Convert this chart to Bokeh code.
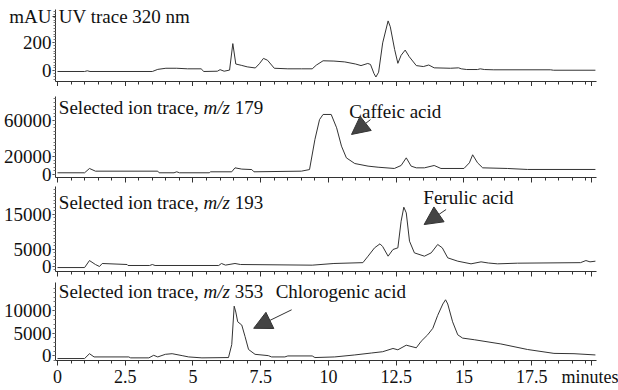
from bokeh.plotting import figure
from bokeh.layouts import column
from bokeh.models import Range1d, FixedTicker, Label, Arrow, NormalHead
from bokeh.embed import file_html
from bokeh.resources import INLINE

FONT = "Liberation Serif"
INK = "#333333"

# ---- data (minutes, intensity) ----
x_ticks = [0, 2.5, 5, 7.5, 10, 12.5, 15, 17.5, 19.7]
x_tick_labels = ["0", "2.5", "5", "7.5", "10", "12.5", "15", "17.5", "minutes"]

uv_t = [0.0, 1.0, 1.1, 1.2, 3.5, 3.7, 4.0, 4.4, 4.8, 5.3, 5.4, 5.9, 6.0, 6.15, 6.35,
        6.47, 6.58, 6.8, 7.0, 7.3, 7.45, 7.6, 7.75, 8.0, 8.5, 9.0, 9.4, 9.55, 9.8,
        10.2, 10.6, 11.0, 11.2, 11.45, 11.55, 11.68, 11.75, 11.85, 12.0, 12.2, 12.28,
        12.44, 12.56, 12.68, 12.83, 12.98, 13.24, 13.5, 13.7, 13.9, 14.5, 14.8, 14.9,
        15.1, 15.5, 15.6, 15.75, 16.1, 18.2, 18.3, 19.85]
uv_mAU = [-5, -5, 0, -5, -5, 10, 18, 18, 14, 14, -5, -3, 8, -3, 5,
          193, 48, 38, 28, 20, 50, 88, 75, 18, 14, 14, 14, 40, 71,
          69, 63, 48, 37, 52, 45, -20, -44, -10, 198, 354, 313,
          152, 53, 110, 147, 100, 37, 30, 41, 21, 18, 21, 14,
          9, 9, 14, 9, 7, 7, 4, 4]
uv_ticks = [0, 200, 385]
uv_tick_labels = ["0", "200", "mAU"]

mz179_t = [0.0, 1.0, 1.18, 1.4, 3.7, 3.75, 4.3, 4.4, 4.5, 5.6, 5.65, 6.43, 6.55, 6.8,
           7.17, 7.25, 9.0, 9.3, 9.5, 9.67, 9.8, 10.1, 10.3, 10.48, 10.66, 10.97, 11.46,
           11.83, 12.43, 12.68, 12.87, 13.05, 13.24, 13.54, 13.9, 14.15, 15.0, 15.2,
           15.32, 15.5, 15.69, 16.6, 17.34, 19.85]
mz179 = [1900, 1900, 6700, 3700, 3700, 1900, 1900, 3000, 1900, 1900, 3000, 3000, 7400, 6000,
         5500, 3000, 3700, 5500, 39000, 61000, 66700, 66700, 51900, 31500, 18500, 12200, 9300,
         8100, 6700, 10000, 18500, 9300, 7400, 7400, 10000, 6700, 6700, 13000,
         21900, 13000, 7400, 6700, 5600, 5600]
mz179_ticks = [0, 20000, 60000]
mz179_tick_labels = ["0", "20000", "60000"]

mz193_t = [0.0, 1.0, 1.18, 1.4, 1.55, 1.65, 2.57, 2.6, 3.4, 3.5, 3.6, 5.95, 6.05, 6.2,
           6.55, 6.75, 9.4, 10.2, 11.27, 11.46, 11.7, 11.9, 12.0, 12.2, 12.38, 12.56,
           12.68, 12.78, 12.87, 12.99, 13.17, 13.54, 13.79, 14.03, 14.2, 14.4, 14.77,
           15.26, 15.63, 15.9, 16.24, 16.97, 19.3, 19.5, 19.65, 19.85]
mz193 = [-300, -300, 1700, 570, 0, 860, 570, 290, 290, 570, 290, 290, 860, 400,
         860, 570, 380, 860, 1100, 2950, 5340, 6480, 5700, 2950, 4860, 5340,
         12950, 16960, 15350, 7240, 3900, 2950, 3900, 6300, 5340, 2480, 1520,
         760, 1330, 1000, 760, 950, 1100, 1700, 1330, 1520]
mz193_ticks = [0, 5000, 15000]
mz193_tick_labels = ["0", "5000", "15000"]

mz353_t = [0.0, 1.0, 1.18, 1.35, 2.63, 2.7, 3.37, 3.55, 3.7, 3.98, 4.23, 4.6, 4.84, 5.33,
           6.31, 6.43, 6.52, 6.58, 6.65, 6.8, 6.92, 7.05, 7.29, 7.78, 7.9, 8.39, 8.5,
           9.4, 9.5, 10.23, 10.97, 11.58, 12.0, 12.38, 12.56, 12.87, 13.24, 13.42, 13.66,
           13.85, 14.03, 14.22, 14.32, 14.4, 14.58, 14.77, 14.95, 15.38, 16.36, 17.34,
           18.32, 19.06, 19.85]
mz353 = [-650, -650, 430, -290, -290, -500, -500, 70, -290, 290, 430, 0, -290, -500,
         -430, 2450, 11000, 9700, 7530, 6800, 4270, 1370, 290, 0, -290, -290, -70,
         -70, -430, -290, 150, 580, 870, 1590, 1300, 2320, 1740, 3190, 4630,
         6080, 8970, 11500, 12430, 11500, 7530, 4630, 3900, 3540, 2600, 1370,
         500, 430, 150]
mz353_ticks = [0, 5000, 10000]
mz353_tick_labels = ["0", "5000", "10000"]

X_RANGE = (-0.0735, 19.89)


def panel(height, top, bottom, yr, yticks, ylabels, yminor, show_x):
    p = figure(width=618, height=height, x_range=Range1d(*X_RANGE), y_range=Range1d(*yr),
               output_backend="svg", toolbar_location=None,
               min_border_left=53, min_border_right=22,
               min_border_top=top, min_border_bottom=bottom)
    p.grid.visible = False
    p.outline_line_color = None
    p.background_fill_color = "white"
    p.border_fill_color = "white"

    xa = p.xaxis[0]
    xa.ticker = FixedTicker(ticks=x_ticks, minor_ticks=[i * 0.5 for i in range(40)])
    xa.major_label_overrides = {float(t): lab for t, lab in zip(x_ticks, x_tick_labels)}
    xa.axis_line_color = INK
    xa.major_tick_line_color = INK
    xa.minor_tick_line_color = INK
    xa.major_tick_out = 5
    xa.major_tick_in = 0
    xa.minor_tick_out = 3
    xa.minor_tick_in = 0
    xa.major_label_text_font = FONT
    xa.major_label_text_font_size = "18px"
    xa.major_label_standoff = 1
    xa.major_label_text_color = "#111111" if show_x else None

    ya = p.yaxis[0]
    ya.ticker = FixedTicker(ticks=yticks, minor_ticks=yminor)
    ya.major_label_overrides = {float(t): lab for t, lab in zip(yticks, ylabels)}
    ya.axis_line_color = INK
    ya.major_tick_line_color = INK
    ya.minor_tick_line_color = "#777777"
    ya.major_tick_out = 3
    ya.major_tick_in = 0
    ya.minor_tick_out = 2
    ya.minor_tick_in = 0
    ya.major_label_standoff = 1
    ya.major_label_text_font = FONT
    ya.major_label_text_font_size = "19px"
    ya.major_label_text_color = "#111111"
    return p


def text(p, x, y, s, x_offset=0, italic=False, size="19px"):
    p.add_layout(Label(x=x, y=y, text=s, x_offset=x_offset, text_font=FONT,
                       text_font_size=size, text_color="#111111",
                       text_font_style="italic" if italic else "normal",
                       text_align="left", text_baseline="middle"))


def ion_title(p, y, mz):
    # "Selected ion trace, " = 144.6 px at 19px (Times metrics), italic "m/z" = 26.4 px
    text(p, 0.05, y, "Selected ion trace,")
    text(p, 0.05, y, "m/z", x_offset=144.6, italic=True)
    text(p, 0.05, y, mz, x_offset=175.8)


def arrow(p, xs, ys, xe, ye):
    p.add_layout(Arrow(x_start=xs, y_start=ys, x_end=xe, y_end=ye,
                       line_color=INK, line_width=1,
                       end=NormalHead(size=18, fill_color="#444444",
                                      line_color=INK, line_width=1,
                                      hatch_pattern="x", hatch_color="#bbbbbb",
                                      hatch_scale=4)))


# Panel 1: UV trace
p1 = panel(86, 9, 5, (-76, 435), uv_ticks, uv_tick_labels, list(range(-60, 440, 20)), False)
p1.line(uv_t, uv_mAU, line_color=INK, line_width=1)
text(p1, 0.05, 385, "UV trace 320 nm")

# Panel 2: m/z 179
p2 = panel(98, 10, 7, (-3333, 86660), mz179_ticks, mz179_tick_labels,
           list(range(0, 88000, 4000)), False)
p2.line(mz179_t, mz179, line_color=INK, line_width=1)
ion_title(p2, 74400, "179")
text(p2, 10.77, 70300, "Caffeic acid")
arrow(p2, 11.55, 61000, 10.85, 44500)

# Panel 3: m/z 193
p3 = panel(93, 2, 6, (-1430, 22880), mz193_ticks, mz193_tick_labels,
           list(range(-1000, 23000, 1000)), False)
p3.line(mz193_t, mz193, line_color=INK, line_width=1)
ion_title(p3, 18300, "193")
text(p3, 13.5, 19700, "Ferulic acid")
arrow(p3, 14.34, 16300, 13.53, 12000)

# Panel 4: m/z 353
p4 = panel(112, 5, 27, (-1085, 16275), mz353_ticks, mz353_tick_labels,
           list(range(-1000, 16000, 1000)), True)
p4.line(mz353_t, mz353, line_color=INK, line_width=1)
ion_title(p4, 14300, "353")
text(p4, 8.05, 14300, "Chlorogenic acid")
arrow(p4, 8.64, 10200, 7.24, 6080)

layout = column(p1, p2, p3, p4, spacing=0)
open("out.html", "w").write(file_html(layout, INLINE))
